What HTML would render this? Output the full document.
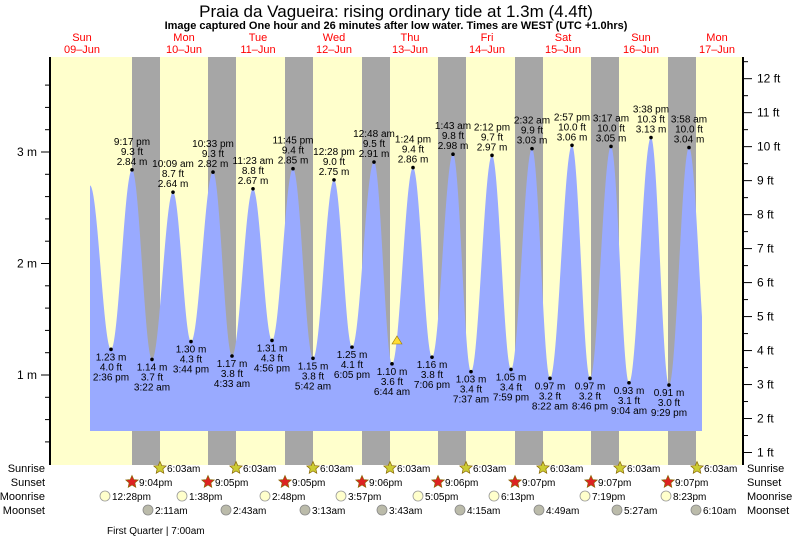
<!DOCTYPE html>
<html><head><meta charset="utf-8"><style>
body{margin:0;background:#fff;width:793px;height:539px;overflow:hidden}
svg text{font-family:"Liberation Sans",sans-serif}
</style></head><body>
<svg id="s" width="793" height="539" xmlns="http://www.w3.org/2000/svg">
<rect x="50" y="57" width="693" height="408" fill="#ffffcc"/>
<g id="night" fill="#a6a6a6"></g>
<path id="tide" fill="#99aaff" d=""/>
<g id="labs" font-size="10" fill="#000" text-anchor="middle"></g>
<line x1="50" y1="57" x2="50" y2="465" stroke="#000" stroke-width="2"/>
<line x1="743" y1="57" x2="743" y2="465" stroke="#000" stroke-width="2"/>
<g id="ticks" stroke="#000" stroke-width="1"></g>
<g id="tl" font-size="12" fill="#000"></g>
<text x="396" y="17" font-size="17" text-anchor="middle">Praia da Vagueira: rising  ordinary tide at 1.3m (4.4ft)</text>
<text x="396" y="29" font-size="11" font-weight="bold" text-anchor="middle">Image captured One hour and 26 minutes after low water. Times are WEST (UTC +1.0hrs)</text>
<g id="days" font-size="11" fill="#ff0000" text-anchor="middle"></g>
<polygon points="397,336 402,344 392,344" fill="#ffdd33" stroke="#997700" stroke-width="0.6"/>
<g font-size="11" fill="#000">
<text x="45" y="472" text-anchor="end">Sunrise</text><text x="45" y="486" text-anchor="end">Sunset</text>
<text x="45" y="500" text-anchor="end">Moonrise</text><text x="45" y="514" text-anchor="end">Moonset</text>
<text x="747" y="472">Sunrise</text><text x="747" y="486">Sunset</text>
<text x="747" y="500">Moonrise</text><text x="747" y="514">Moonset</text>
</g>
<g id="ev" font-size="10" fill="#000"></g>
<text x="107" y="534" font-size="10" fill="#000">First Quarter | 7:00am</text>
</svg>
<script>
var NS="http://www.w3.org/2000/svg";
function el(p,t,a,txt){var e=document.createElementNS(NS,t);for(var k in a)e.setAttribute(k,a[k]);if(txt!=null)e.textContent=txt;document.getElementById(p).appendChild(e);return e;}
var nights=[132,208,285,362,438,515,591,668];
nights.forEach(function(x){el("night","rect",{x:x,y:57,width:28,height:408});});
function Y(m){return 375-(m-1)*111.5;}
var ex=[[90,2.70],[111,1.23,"2:36 pm"],[132,2.84,"9:17 pm"],[152,1.14,"3:22 am"],[173,2.64,"10:09 am"],[191,1.30,"3:44 pm"],[213,2.82,"10:33 pm"],[232,1.17,"4:33 am"],[253,2.67,"11:23 am"],[272,1.31,"4:56 pm"],[293,2.85,"11:45 pm"],[313,1.15,"5:42 am"],[334,2.75,"12:28 pm"],[352,1.25,"6:05 pm"],[374,2.91,"12:48 am"],[392,1.10,"6:44 am"],[413,2.86,"1:24 pm"],[432,1.16,"7:06 pm"],[453,2.98,"1:43 am"],[471,1.03,"7:37 am"],[492,2.97,"2:12 pm"],[511,1.05,"7:59 pm"],[532,3.03,"2:32 am"],[550,0.97,"8:22 am"],[572,3.06,"2:57 pm"],[590,0.97,"8:46 pm"],[611,3.05,"3:17 am"],[629,0.93,"9:04 am"],[651,3.13,"3:38 pm"],[669,0.91,"9:29 pm"],[689,3.04,"3:58 am"],[709,0.95]];
var bot=431,d="M90,"+bot;
for(var i=0;i<ex.length-1;i++){var a=ex[i],b=ex[i+1];for(var x=a[0];x<b[0];x+=0.5){if(x>702)break;var t=(x-a[0])/(b[0]-a[0]);var m=a[1]+(b[1]-a[1])*(1-Math.cos(Math.PI*t))/2;d+=" L"+x+","+Y(m).toFixed(1);}}
d+=" L702,"+bot+" Z";document.getElementById("tide").setAttribute("d",d);
ex.forEach(function(e){if(!e[2])return;var y=Y(e[1]),ft=(e[1]/0.3048).toFixed(1)+" ft",m=e[1].toFixed(2)+" m";
el("labs","circle",{cx:e[0],cy:y,r:1.8});
if(e[1]>2){el("labs","text",{x:e[0],y:y-25},e[2]);el("labs","text",{x:e[0],y:y-15},ft);el("labs","text",{x:e[0],y:y-5},m);}
else{el("labs","text",{x:e[0],y:y+11},m);el("labs","text",{x:e[0],y:y+21},ft);el("labs","text",{x:e[0],y:y+31},e[2]);}});
for(var mm=0.4;mm<=3.61;mm+=0.2){var y=Y(mm);if(y<57||y>465)continue;var maj=Math.abs(mm-Math.round(mm))<0.01;el("ticks","line",{x1:maj?41:45,y1:y,x2:50,y2:y});if(maj)el("tl","text",{x:37,y:y+4,"text-anchor":"end"},Math.round(mm)+" m");}
for(var f=0.5;f<=12.6;f+=0.5){var y=Y(f*0.3048);if(y<57||y>465)continue;var maj=f%1==0;el("ticks","line",{x1:743,y1:y,x2:maj?752:748,y2:y});if(maj)el("tl","text",{x:757,y:y+4},f+" ft");}
var days=[[82,"Sun","09–Jun"],[184,"Mon","10–Jun"],[258,"Tue","11–Jun"],[334,"Wed","12–Jun"],[410,"Thu","13–Jun"],[487,"Fri","14–Jun"],[563,"Sat","15–Jun"],[641,"Sun","16–Jun"],[717,"Mon","17–Jun"]];
days.forEach(function(a){el("days","text",{x:a[0],y:41},a[1]);el("days","text",{x:a[0],y:53},a[2]);});
function star(x,y,fill){var p="";for(var k=0;k<10;k++){var r=k%2?3:6.5,an=-Math.PI/2+k*Math.PI/5;p+=(x+r*Math.cos(an)).toFixed(1)+","+(y+r*Math.sin(an)).toFixed(1)+" ";}el("ev","polygon",{points:p,fill:fill,stroke:"#886600","stroke-width":0.7});}
[160,236,313,390,466,543,620,697].forEach(function(x){star(x,468,"#cccc33");el("ev","text",{x:x+7,y:472},"6:03am");});
var ss=["9:04pm","9:05pm","9:05pm","9:06pm","9:06pm","9:07pm","9:07pm","9:07pm"];
nights.forEach(function(x,i){star(x,482,"#dd2222");el("ev","text",{x:x+7,y:486},ss[i]);});
var mr=[[105,"12:28pm"],[182,"1:38pm"],[265,"2:48pm"],[341,"3:57pm"],[418,"5:05pm"],[494,"6:13pm"],[585,"7:19pm"],[666,"8:23pm"]];
mr.forEach(function(a){el("ev","circle",{cx:a[0],cy:496,r:5,fill:"#ffffcc",stroke:"#999","stroke-width":0.8});el("ev","text",{x:a[0]+7,y:500},a[1]);});
var ms=[[148,"2:11am"],[226,"2:43am"],[305,"3:13am"],[382,"3:43am"],[460,"4:15am"],[539,"4:49am"],[617,"5:27am"],[696,"6:10am"]];
ms.forEach(function(a){el("ev","circle",{cx:a[0],cy:510,r:5,fill:"#bbbbaa",stroke:"#888","stroke-width":0.8});el("ev","text",{x:a[0]+7,y:514},a[1]);});
</script>
</body></html>
